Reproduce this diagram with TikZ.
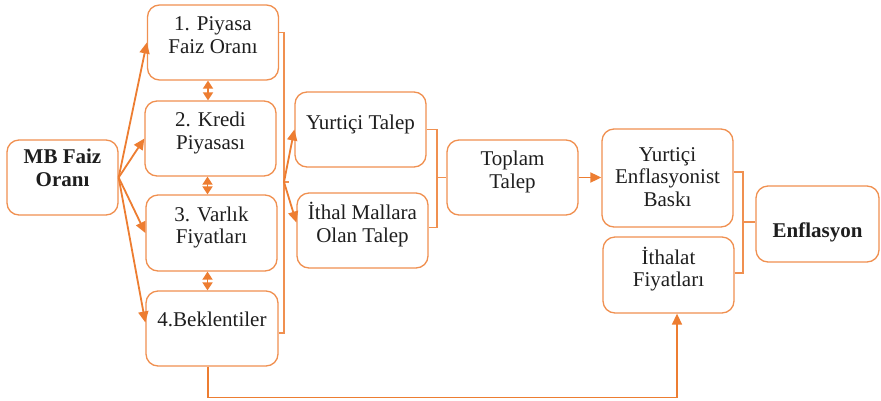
\documentclass[tikz,border=0pt]{standalone}
\usepackage{fontspec}
\setmainfont{Liberation Serif}
\usetikzlibrary{arrows.meta}
\definecolor{turuncu}{HTML}{ED7D31}
\definecolor{yazi}{HTML}{1E1E1E}
\newcommand{\liftext}[2][5pt]{\raisebox{#1}[\height][\depth]{\begin{tabular}{@{}c@{}}#2\end{tabular}}}

\begin{document}
\begin{tikzpicture}[x=1pt, y=-1pt,
  kutu/.style = {shape=rectangle, rounded corners=12pt,
    draw=turuncu!85, line width=1.3pt, inner sep=0pt,
    minimum width=131pt, minimum height=75pt, text=yazi,
    font=\fontsize{21}{22.5}\selectfont},
  kalin/.style = {font=\fontsize{21}{22.5}\selectfont\bfseries},
  ok/.style = {draw=turuncu, line width=1.8pt, -{Triangle[length=11pt,width=10pt]}},
  ciftok/.style = {ok, {Triangle[length=8pt,width=10pt]}-{Triangle[length=8pt,width=10pt]}},
  ayrac/.style = {draw=turuncu!85, line width=1.3pt}]
  \useasboundingbox (0,0) rectangle (881,400);
  \fill[white] (0,0) rectangle (881,400);

  % kanallar
  \node[kutu, kalin, minimum width=111pt] (mb) at (62.5,177.5) {\liftext[7pt]{MB Faiz\\Oranı}};
  \node[kutu] (p1) at (213,42.5) {\liftext{1. Piyasa\\Faiz Oranı}};
  \node[kutu] (p2) at (210.5,138.5) {\liftext{2. Kredi\\Piyasası}};
  \node[kutu, minimum height=76pt] (p3) at (211.5,233) {\liftext{3. Varlık\\Fiyatları}};
  \node[kutu, minimum width=132pt] (p4) at (212,328.5) {\liftext[7pt]{4.Beklentiler}};
  % talep
  \node[kutu] (yt) at (360.5,129.5) {\liftext{Yurtiçi Talep}};
  \node[kutu] (it) at (362.5,230.5) {\liftext{İthal Mallara\\Olan Talep}};
  \node[kutu] (tt) at (512.5,177.5) {\liftext{Toplam\\Talep}};
  % fiyatlar
  \node[kutu, minimum height=98pt] (yeb) at (667.5,178) {\liftext[-1pt]{Yurtiçi\\Enflasyonist\\Baskı}};
  \node[kutu, minimum height=76pt] (ifi) at (668.5,275) {\liftext{İthalat\\Fiyatları}};
  \node[kutu, kalin, minimum width=123pt, minimum height=76pt] (enf) at (817.5,224) {\liftext[-9pt]{Enflasyon}};

  \draw[ok] (mb.east) -- (p1.west);
  \draw[ok] (mb.east) -- (p2.west);
  \draw[ok] (mb.east) -- (p3.west);
  \draw[ok] (mb.east) -- ([yshift=6pt]p4.west);

  \draw[ciftok] ([xshift=-5pt]p1.south) -- ([xshift=-5pt]p1.south |- p2.north);
  \draw[ciftok] ([xshift=-3pt]p2.south) -- ([xshift=-3pt]p2.south |- p3.north);
  \draw[ciftok] ([xshift=-4pt]p3.south) -- ([xshift=-4pt]p3.south |- p4.north);

  \coordinate (b1) at (284,182);
  \draw[ayrac] ([yshift=10pt]p1.east) -| (b1) |- ([yshift=-4.5pt]p4.east);
  \draw[ayrac] (b1) -- ++(5,0);
  \draw[ok] (b1) -- (yt.west);
  \draw[ok] (b1) -- ([yshift=8pt]it.west);

  \coordinate (b2) at (437,177.5);
  \draw[ayrac] (yt.east) -| (b2) |- ([yshift=3pt]it.east);
  \draw[ayrac] (b2) -- (tt.west);
  \draw[ok] (tt.east) -- (tt.east -| yeb.west);

  \coordinate (b3) at (743,222);
  \draw[ayrac] ([yshift=6pt]yeb.east) -| (b3) |- ([yshift=2pt]ifi.east);
  \draw[ayrac] (b3) -- (b3 -| enf.west);

  %\draw[ok] (p4) -- (ifi);
  \draw[ok, line width=1.5pt] ([xshift=-4pt]p4.south) -- ++(0,31) -| ([xshift=8.5pt]ifi.south);
\end{tikzpicture}
\end{document}
